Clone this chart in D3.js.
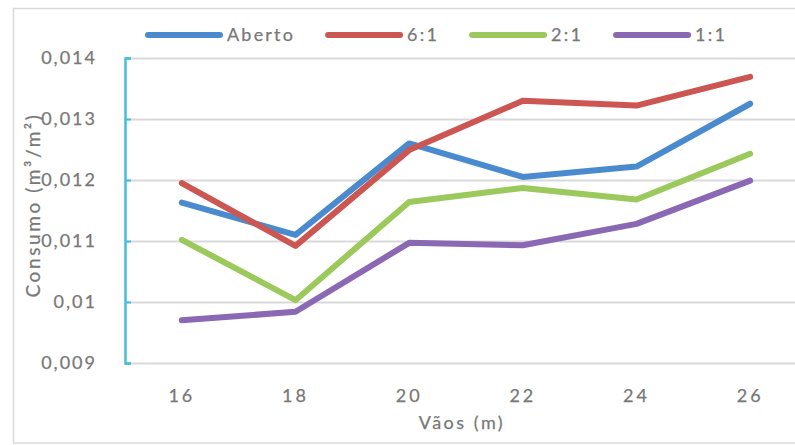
<!DOCTYPE html>
<html>
<head>
<meta charset="utf-8">
<script src="https://cdn.jsdelivr.net/npm/d3@7"></script>
<style>
  html, body { margin: 0; padding: 0; background: #fff; }
  svg { display: block; }
  text { font-family: Lato, "Open Sans", sans-serif; fill: #787878; stroke: #787878; stroke-width: 0.25px; }
</style>
</head>
<body>
<svg id="chart" width="795" height="445"></svg>
<script>
// Spans (m) on the category axis
const spans = ["16", "18", "20", "22", "24", "26"];

// Consumption (m³/m²) per span, one array per configuration
const aberto = [0.01163, 0.01110, 0.01260, 0.01205, 0.01222, 0.01325];
const r61    = [0.01195, 0.01092, 0.01249, 0.01330, 0.01322, 0.01369];
const r21    = [0.01102, 0.01003, 0.01164, 0.01187, 0.01168, 0.01243];
const r11    = [0.00970, 0.00984, 0.01097, 0.01093, 0.01128, 0.01199];

const seriesNames = ["Aberto", "6:1", "2:1", "1:1"];
const seriesValues = [aberto, r61, r21, r11];
const seriesColors = ["#4a8bd0", "#cc5652", "#9bc95c", "#8a68b4"];

const yTicks = [0.009, 0.010, 0.011, 0.012, 0.013, 0.014];

const svg = d3.select("#chart");

// Outer chart frame
svg.append("rect")
  .attr("x", 13.5).attr("y", 8.5)
  .attr("width", 810).attr("height", 434.5)
  .attr("fill", "#fff").attr("stroke", "#d9d9d9").attr("stroke-width", 1.5);

const plot = { left: 125, right: 807, top: 58, bottom: 363 };

const x = d3.scaleBand().domain(spans).range([plot.left, plot.right]);
const y = d3.scaleLinear().domain([0.009, 0.014]).range([plot.bottom, plot.top]);

const ptBR = d3.formatLocale({ decimal: ",", thousands: ".", grouping: [3], currency: ["", ""] });
const fmt = ptBR.format(".3~f");

// Horizontal gridlines
svg.append("g")
  .selectAll("line")
  .data(yTicks)
  .join("line")
  .attr("x1", plot.left).attr("x2", plot.right)
  .attr("y1", d => Math.round(y(d)) + 0.5).attr("y2", d => Math.round(y(d)) + 0.5)
  .attr("stroke", "#d9d9d9").attr("stroke-width", 2);

// Y axis (ticks pointing into the plot)
const yAxis = d3.axisLeft(y).tickValues(yTicks).tickFormat(fmt).tickSize(-6).tickPadding(28);
const gy = svg.append("g")
  .attr("transform", `translate(${plot.left},0)`)
  .call(yAxis);
gy.select(".domain").attr("stroke", "#45bfd8").attr("stroke-width", 2.5);
gy.selectAll(".tick line").attr("stroke", "#45bfd8").attr("stroke-width", 2);
gy.selectAll(".tick text")
  .attr("font-size", 18).attr("letter-spacing", 2)
  .attr("font-family", "Lato, sans-serif").attr("fill", "#787878");

// X axis labels (category names under each band centre)
const xAxis = d3.axisBottom(x).tickSize(0).tickPadding(26);
const gx = svg.append("g")
  .attr("transform", `translate(0,${plot.bottom})`)
  .call(xAxis);
gx.select(".domain").remove();
gx.selectAll(".tick text")
  .attr("font-size", 18).attr("letter-spacing", 3)
  .attr("font-family", "Lato, sans-serif").attr("fill", "#787878");

// Axis titles
svg.append("text")
  .attr("x", 462).attr("y", 429)
  .attr("text-anchor", "middle")
  .attr("font-size", 18).attr("letter-spacing", 2.5)
  .text("Vãos (m)");

svg.append("text")
  .attr("transform", "translate(40,205) rotate(-90)")
  .attr("text-anchor", "middle")
  .attr("font-size", 19).attr("letter-spacing", 2.6)
  .text("Consumo (m³/m²)");

// Series lines
const line = d3.line()
  .x((d, i) => x(spans[i]) + x.bandwidth() / 2)
  .y(d => y(d));

svg.append("g")
  .selectAll("path")
  .data(seriesValues)
  .join("path")
  .attr("d", d => line(d))
  .attr("fill", "none")
  .attr("stroke", (d, i) => seriesColors[i])
  .attr("stroke-width", 6)
  .attr("stroke-linecap", "round")
  .attr("stroke-linejoin", "round");

// Legend
const legend = svg.append("g").attr("transform", "translate(0,35)");
let lx = 148;
seriesNames.forEach((name, i) => {
  const g = legend.append("g");
  g.append("line")
    .attr("x1", lx).attr("x2", lx + 72)
    .attr("y1", 0).attr("y2", 0)
    .attr("stroke", seriesColors[i]).attr("stroke-width", 6)
    .attr("stroke-linecap", "round");
  const t = g.append("text")
    .attr("x", lx + 79).attr("y", 0)
    .attr("dy", "0.35em")
    .attr("font-size", 18).attr("letter-spacing", 2.2)
    .text(name);
  lx += 79 + t.node().getComputedTextLength() + 33;
});
</script>
</body>
</html>
